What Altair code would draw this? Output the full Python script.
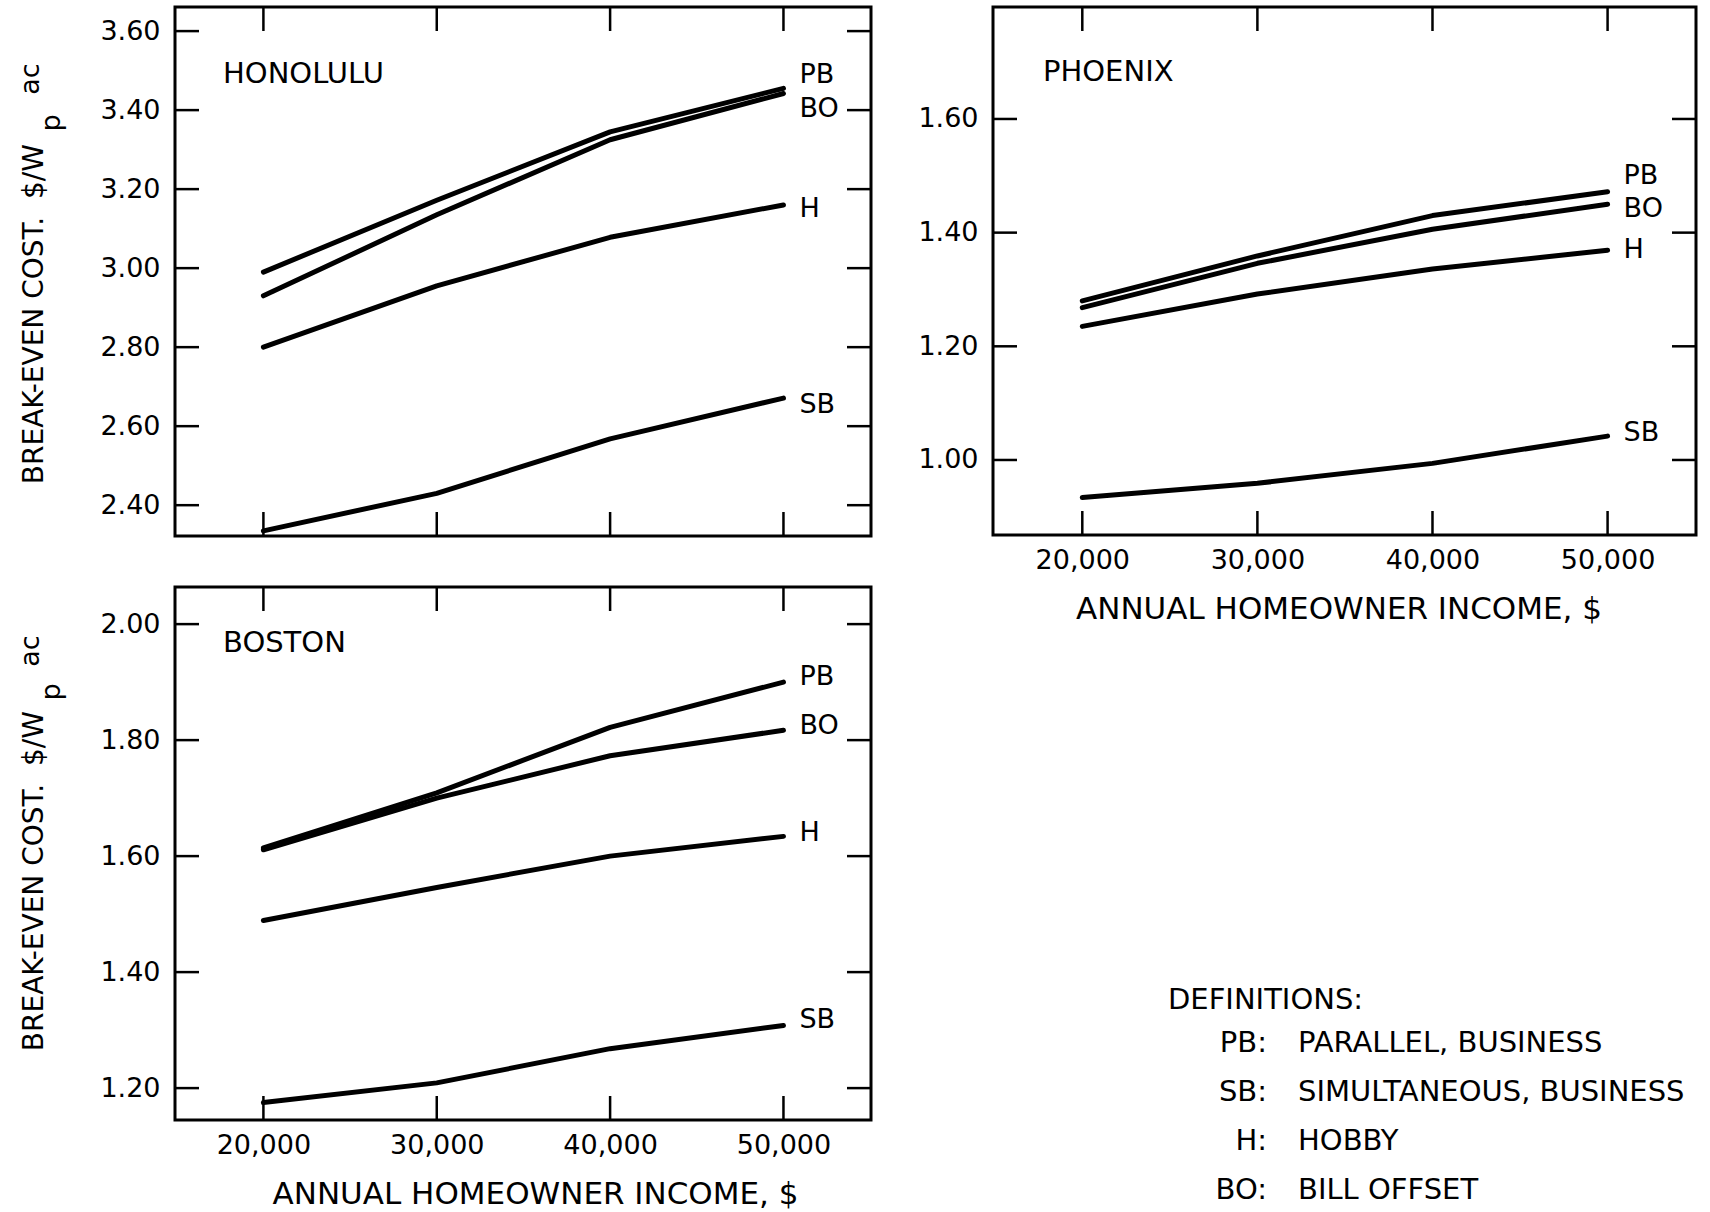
import altair as alt
import pandas as pd

FONT = "DejaVu Sans"

income = [20000, 30000, 40000, 50000]
series = ["PB", "BO", "H", "SB"]

# Honolulu break-even cost, $/Wp ac
honolulu_pb = [2.99, 3.172, 3.345, 3.455]
honolulu_bo = [2.93, 3.135, 3.325, 3.442]
honolulu_h = [2.80, 2.955, 3.078, 3.160]
honolulu_sb = [2.335, 2.430, 2.568, 2.671]
honolulu_label_y = [3.489, 3.403, 3.150, 2.654]
honolulu_yticks = [2.40, 2.60, 2.80, 3.00, 3.20, 3.40, 3.60]

# Phoenix
phoenix_pb = [1.280, 1.359, 1.430, 1.472]
phoenix_bo = [1.268, 1.346, 1.406, 1.450]
phoenix_h = [1.235, 1.292, 1.336, 1.369]
phoenix_sb = [0.934, 0.959, 0.994, 1.042]
phoenix_label_y = [1.499, 1.441, 1.370, 1.047]
phoenix_yticks = [1.00, 1.20, 1.40, 1.60]

# Boston
boston_pb = [1.614, 1.709, 1.822, 1.900]
boston_bo = [1.611, 1.700, 1.773, 1.817]
boston_h = [1.489, 1.546, 1.600, 1.634]
boston_sb = [1.175, 1.209, 1.268, 1.308]
boston_label_y = [1.909, 1.824, 1.640, 1.318]
boston_yticks = [1.20, 1.40, 1.60, 1.80, 2.00]

def_abbr = ["PB:", "SB:", "H:", "BO:"]
def_text = ["PARALLEL, BUSINESS", "SIMULTANEOUS, BUSINESS", "HOBBY", "BILL OFFSET"]

XDOM = [14900, 55050]
TICK = 24


def text_layer(txt, x, y, size, align="left", angle=0):
    return alt.Chart(pd.DataFrame({"t": [txt]})).mark_text(
        align=align, baseline="middle", fontSize=size, font=FONT,
        color="black", angle=angle
    ).encode(x=alt.value(x), y=alt.value(y), text="t:N")


def panel(name, vals, label_y, ydom, yticks, w, h, x_title_x, title_pos):
    rows = []
    for s, v in zip(series, vals):
        for inc, c in zip(income, v):
            rows.append({"series": s, "income": inc, "cost": c})
    df = pd.DataFrame(rows)
    xs = alt.Scale(domain=XDOM, nice=False, zero=False)
    ys = alt.Scale(domain=ydom, nice=False, zero=False)
    if x_title_x is not None:
        xax = alt.Axis(values=income, format=",d", title="ANNUAL HOMEOWNER INCOME, $",
                       labelPadding=12, titlePadding=21, labelFontSize=27,
                       titleFontSize=31, titleX=x_title_x,
                       domain=False, ticks=False, grid=False)
        X = alt.X("income:Q", scale=xs, axis=xax)
    else:
        X = alt.X("income:Q", scale=xs, axis=None)
    yax = alt.Axis(values=yticks, format=".2f", title=None, labelPadding=15,
                   labelFontSize=27, domain=False, ticks=False, grid=False)
    Y = alt.Y("cost:Q", scale=ys, axis=yax)

    lines = alt.Chart(df).mark_line(
        color="black", strokeWidth=5, strokeCap="round", strokeJoin="round"
    ).encode(x=X, y=Y, detail="series:N")

    ytick_df = pd.DataFrame({"cost": yticks})
    xtick_df = pd.DataFrame({"income": income})
    rule = dict(color="black", strokeWidth=2.5)
    yl = alt.Chart(ytick_df).mark_rule(**rule).encode(y=Y, x=alt.value(0), x2=alt.value(TICK))
    yr = alt.Chart(ytick_df).mark_rule(**rule).encode(y=Y, x=alt.value(w - TICK), x2=alt.value(w))
    xb = alt.Chart(xtick_df).mark_rule(**rule).encode(x=X, y=alt.value(h - TICK), y2=alt.value(h))
    xt = alt.Chart(xtick_df).mark_rule(**rule).encode(x=X, y=alt.value(0), y2=alt.value(TICK))

    lab_df = pd.DataFrame({"series": series, "income": [income[-1]] * len(series), "cost": label_y})
    labels = alt.Chart(lab_df).mark_text(
        align="left", baseline="middle", dx=16, fontSize=27, font=FONT, color="black"
    ).encode(x=X, y=Y, text="series:N")

    title = text_layer(name, title_pos[0], title_pos[1], 29)
    return [lines, yl, yr, xb, xt, labels, title]


def ytitle(y_main, y_p, y_ac):
    return [
        text_layer("BREAK-EVEN COST.\u00a0\u00a0$/W", -140, y_main, 28, align="right", angle=270),
        text_layer("p", -123, y_p, 27, align="center", angle=270),
        text_layer("ac", -144, y_ac, 27, align="center", angle=270),
    ]


HW, HH = 696, 529
PW, PH = 703, 528
BW, BH = 696, 533

hon_layers = panel("HONOLULU", [honolulu_pb, honolulu_bo, honolulu_h, honolulu_sb],
                   honolulu_label_y, [2.322, 3.661], honolulu_yticks, HW, HH, None, (48, 67))
hon_layers += ytitle(137, 116, 72)
hon = alt.layer(*hon_layers).properties(width=HW, height=HH)

phx_layers = panel("PHOENIX", [phoenix_pb, phoenix_bo, phoenix_h, phoenix_sb],
                   phoenix_label_y, [0.868, 1.797], phoenix_yticks, PW, PH, PW / 2 - 6, (50, 65))
phx_layers.append(text_layer("DEFINITIONS:", 175, 993, 29))
for i, (ab, tx) in enumerate(zip(def_abbr, def_text)):
    yy = 1036 + i * 49
    phx_layers.append(text_layer(ab, 274, yy, 29, align="right"))
    phx_layers.append(text_layer(tx, 305, yy, 29))
phx = alt.layer(*phx_layers).properties(width=PW, height=PH)

bos_layers = panel("BOSTON", [boston_pb, boston_bo, boston_h, boston_sb],
                   boston_label_y, [1.145, 2.064], boston_yticks, BW, BH, BW / 2 + 12, (48, 56))
bos_layers += ytitle(124, 105, 64)
bos = alt.layer(*bos_layers).properties(width=BW, height=BH)

chart = alt.concat(
    hon, phx, bos, columns=2, spacing={"row": 51, "column": 122}, bounds="flush"
).properties(
    padding={"left": 15, "top": 4, "right": 0, "bottom": 0},
    background="white",
).configure_view(
    stroke="black", strokeWidth=3
).configure_axis(
    labelFont=FONT, titleFont=FONT, labelColor="black", titleColor="black",
    titleFontWeight="normal"
)

chart.save("out.html", embed_options={"renderer": "svg", "actions": False})
